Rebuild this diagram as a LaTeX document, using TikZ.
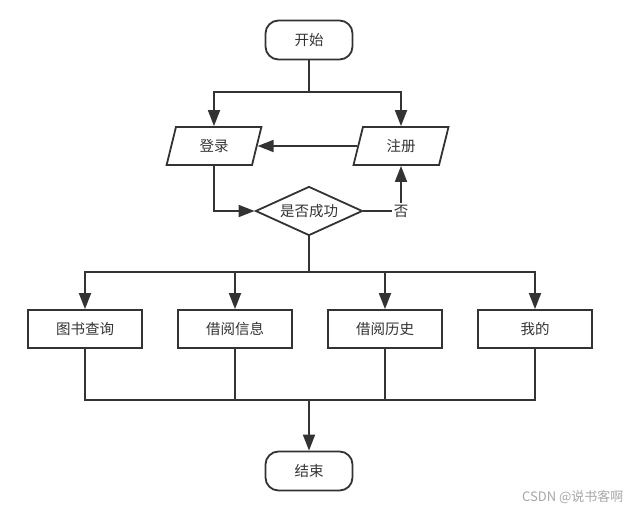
\documentclass[tikz,border=0pt]{standalone}
\usepackage{fontspec}
\newfontfamily\cjk{Noto Sans CJK SC}
\usetikzlibrary{shapes.geometric,arrows.meta}
\definecolor{ln}{HTML}{333333}
\definecolor{tx}{HTML}{333333}
\tikzset{
  txt/.style={font=\cjk\fontsize{14.5}{15}\selectfont, text=tx},
  base/.style={draw=ln, line width=1.8pt, txt, inner sep=0pt},
  term/.style={base, rounded corners=13pt, minimum width=87pt, minimum height=39pt},
  io/.style={base, trapezium, trapezium left angle=75, trapezium right angle=105, trapezium stretches=true, minimum width=95pt, minimum height=38pt},
  proc/.style={base, rectangle, minimum width=114pt, minimum height=38pt},
  dec/.style={base, diamond, aspect=2.2, minimum width=107pt, minimum height=49pt},
  conn/.style={draw=ln, line width=1.8pt},
  arr/.style={conn, -{Triangle[length=16pt,width=12pt]}},
}
\begin{document}
\begin{tikzpicture}[x=1pt,y=-1pt]
\useasboundingbox (0,0) rectangle (639,514);
\node[term] (start) at (309,40) {开始};
\node[io] (login) at (214,146) {登录};
\node[io] (reg) at (401,146) {注册};
\node[dec] (ok) at (309,211) {是否成功};
\node[proc] (b1) at (85,329) {图书查询};
\node[proc] (b2) at (235,329) {借阅信息};
\node[proc] (b3) at (385,329) {借阅历史};
\node[proc] (b4) at (535,329) {我的};
\node[term] (end) at (309,471) {结束};
\coordinate (s1) at (309,92);
\coordinate (s2) at (309,272);
\coordinate (j) at (309,400);
\draw[arr] (start.south) -- (s1) -| (login.north);
\draw[arr] (s1) -| (reg.north);
\draw[arr] (reg.west) -- (login.east);
\draw[arr] (login.south) |- (ok.west);
\draw[arr] (ok.east) -| (reg.south) node[pos=0.5, fill=white, inner sep=1.5pt, txt] {否};
\draw[conn] (ok.south) -- (s2);
\draw[arr] (s2) -| (b1.north);
\draw[arr] (s2) -| (b2.north);
\draw[arr] (s2) -| (b3.north);
\draw[arr] (s2) -| (b4.north);
\draw[conn] (b1.south) |- (j);
\draw[conn] (b4.south) |- (j);
\draw[conn] (b2.south) -- (b2.south |- j);
\draw[conn] (b3.south) -- (b3.south |- j);
\draw[arr] (j) -- (end.north);
\node[text=gray!70, font=\cjk\fontsize{13}{14}\selectfont, anchor=east] (wm) at (627,497) {CSDN @说书客啊};
\end{tikzpicture}
\end{document}
